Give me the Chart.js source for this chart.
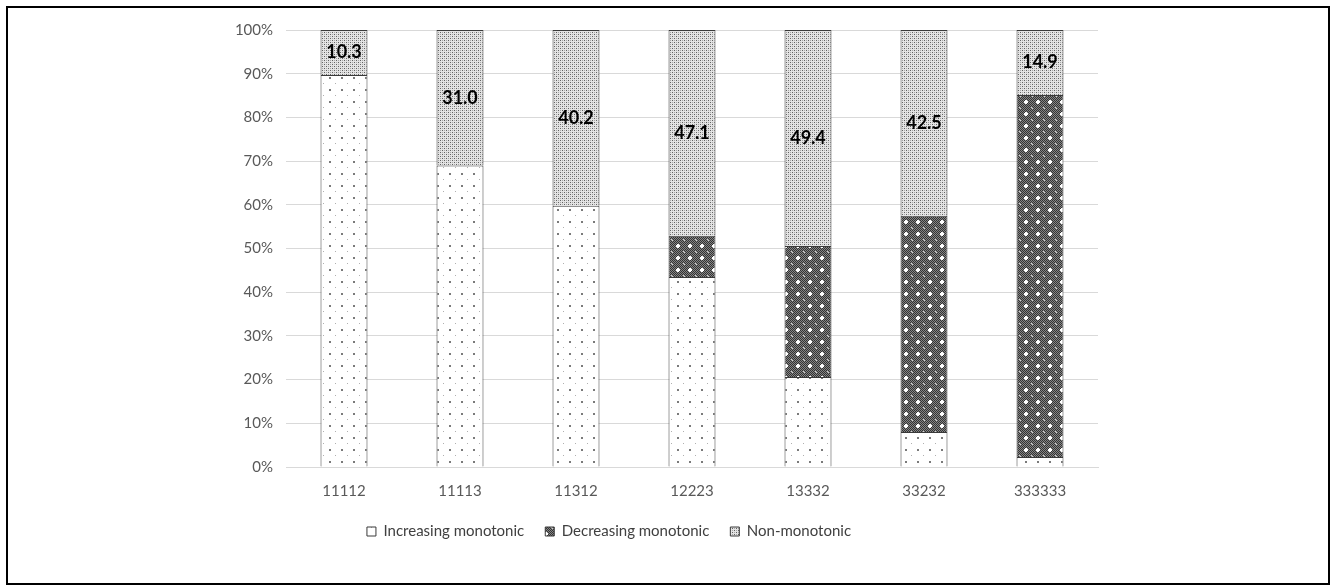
<!DOCTYPE html>
<html>
<head>
<meta charset="utf-8">
<script src="https://cdn.jsdelivr.net/npm/chart.js@4.4.1/dist/chart.umd.min.js"></script>
<style>
  html, body { margin: 0; padding: 0; background: #ffffff; }
  #wrap { position: relative; width: 1330px; height: 586px; }
  #frame { position: absolute; left: 6px; top: 6px; width: 1320px; height: 575px; border: 2px solid #000; pointer-events: none; }
  canvas { position: absolute; left: 0; top: 0; }
</style>
</head>
<body>
<div id="wrap">
  <canvas id="c" width="1330" height="586"></canvas>
  <div id="frame"></div>
</div>
<script>
// ---- data ----
const categories = ['11112', '11113', '11312', '12223', '13332', '33232', '333333'];
const increasing = [89.7, 69.0, 59.8, 43.5, 20.6, 8.0, 2.3];
const decreasing = [0, 0, 0, 9.4, 30.0, 49.5, 82.8];
const nonMonotonic = [10.3, 31.0, 40.2, 47.1, 49.4, 42.5, 14.9];
const seriesNames = ['Increasing monotonic', 'Decreasing monotonic', 'Non-monotonic'];
const yTicks = [0, 10, 20, 30, 40, 50, 60, 70, 80, 90, 100];

// ---- patterns ----
function makeTile(w, h, draw) {
  const c = document.createElement('canvas');
  c.width = w; c.height = h;
  const g = c.getContext('2d');
  draw(g);
  return document.getElementById('c').getContext('2d').createPattern(c, 'repeat');
}
const patIncreasing = makeTile(12, 12, g => {
  g.fillStyle = '#ffffff'; g.fillRect(0, 0, 12, 12);
  g.fillStyle = '#7a7a7a'; g.fillRect(5, 5, 2, 2);
  g.fillStyle = '#b0b0b0'; g.fillRect(11, 11, 1, 1);
});
const patDecreasing = makeTile(12, 12, g => {
  for (let y = 0; y < 12; y++) for (let x = 0; x < 12; x++) {
    g.fillStyle = ((x + y) % 2 === 0) ? '#333333' : '#858585';
    g.fillRect(x, y, 1, 1);
  }
  g.fillStyle = '#ffffff';
  g.fillRect(5, 4, 2, 4); g.fillRect(4, 5, 4, 2);
  g.fillStyle = '#d0d0d0';
  g.fillRect(11, 11, 1, 1); g.fillRect(0, 0, 1, 1);
});
const patNon = makeTile(4, 4, g => {
  g.fillStyle = '#e4e4e4'; g.fillRect(0, 0, 4, 4);
  g.fillStyle = '#626262'; g.fillRect(0, 0, 1, 1); g.fillRect(2, 2, 1, 1);
  g.fillStyle = '#a8a8a8'; g.fillRect(2, 0, 1, 1); g.fillRect(0, 2, 1, 1);
});

// ---- plugins ----
const valueLabels = {
  id: 'valueLabels',
  afterDatasetsDraw(chart) {
    const ctx = chart.ctx;
    const meta = chart.getDatasetMeta(2);
    ctx.save();
    ctx.font = 'bold 18px Lato';
    ctx.fillStyle = '#000000';
    ctx.textAlign = 'center';
    ctx.textBaseline = 'middle';
    meta.data.forEach((bar, i) => {
      const p = bar.getProps(['x', 'y', 'base'], true);
      ctx.fillText(nonMonotonic[i].toFixed(1), p.x, (p.y + p.base) / 2);
    });
    ctx.restore();
  }
};
const legendShift = {
  id: 'legendShift',
  afterLayout(chart) {
    const lg = chart.legend;
    if (lg) { lg.left = 120; }
  }
};

new Chart(document.getElementById('c'), {
  type: 'bar',
  data: {
    labels: categories,
    datasets: [
      { label: seriesNames[0], data: increasing, backgroundColor: patIncreasing, borderColor: '#3a3a3a', borderWidth: 1 },
      { label: seriesNames[1], data: decreasing, backgroundColor: patDecreasing, borderColor: '#3a3a3a', borderWidth: 1 },
      { label: seriesNames[2], data: nonMonotonic, backgroundColor: patNon, borderColor: '#3a3a3a', borderWidth: 1 }
    ]
  },
  options: {
    responsive: false,
    animation: false,
    layout: { padding: { left: 0, right: 232, top: 30, bottom: 37 } },
    datasets: { bar: { categoryPercentage: 1.0, barPercentage: 0.405 } },
    scales: {
      x: {
        stacked: true,
        grid: { display: false, drawTicks: false },
        border: { display: true, color: '#d9d9d9', width: 1 },
        ticks: { padding: 15, color: '#595959', font: { family: 'Lato', size: 15 } },
        afterFit(s) { s.height = 36; }
      },
      y: {
        stacked: true,
        min: 0, max: 100,
        afterBuildTicks(s) { s.ticks = yTicks.map(v => ({ value: v })); },
        grid: { color: '#d9d9d9', lineWidth: 1, drawTicks: false },
        border: { display: false },
        ticks: { padding: 13, color: '#595959', font: { family: 'Lato', size: 15 }, callback: v => v + '%' },
        afterFit(s) { s.width = 286; }
      }
    },
    plugins: {
      legend: {
        position: 'bottom',
        labels: { boxWidth: 9, boxHeight: 9, padding: 21, color: '#404040', font: { family: 'Lato', size: 15 } }
      },
      tooltip: { enabled: false }
    }
  },
  plugins: [valueLabels, legendShift]
});
</script>
</body>
</html>
